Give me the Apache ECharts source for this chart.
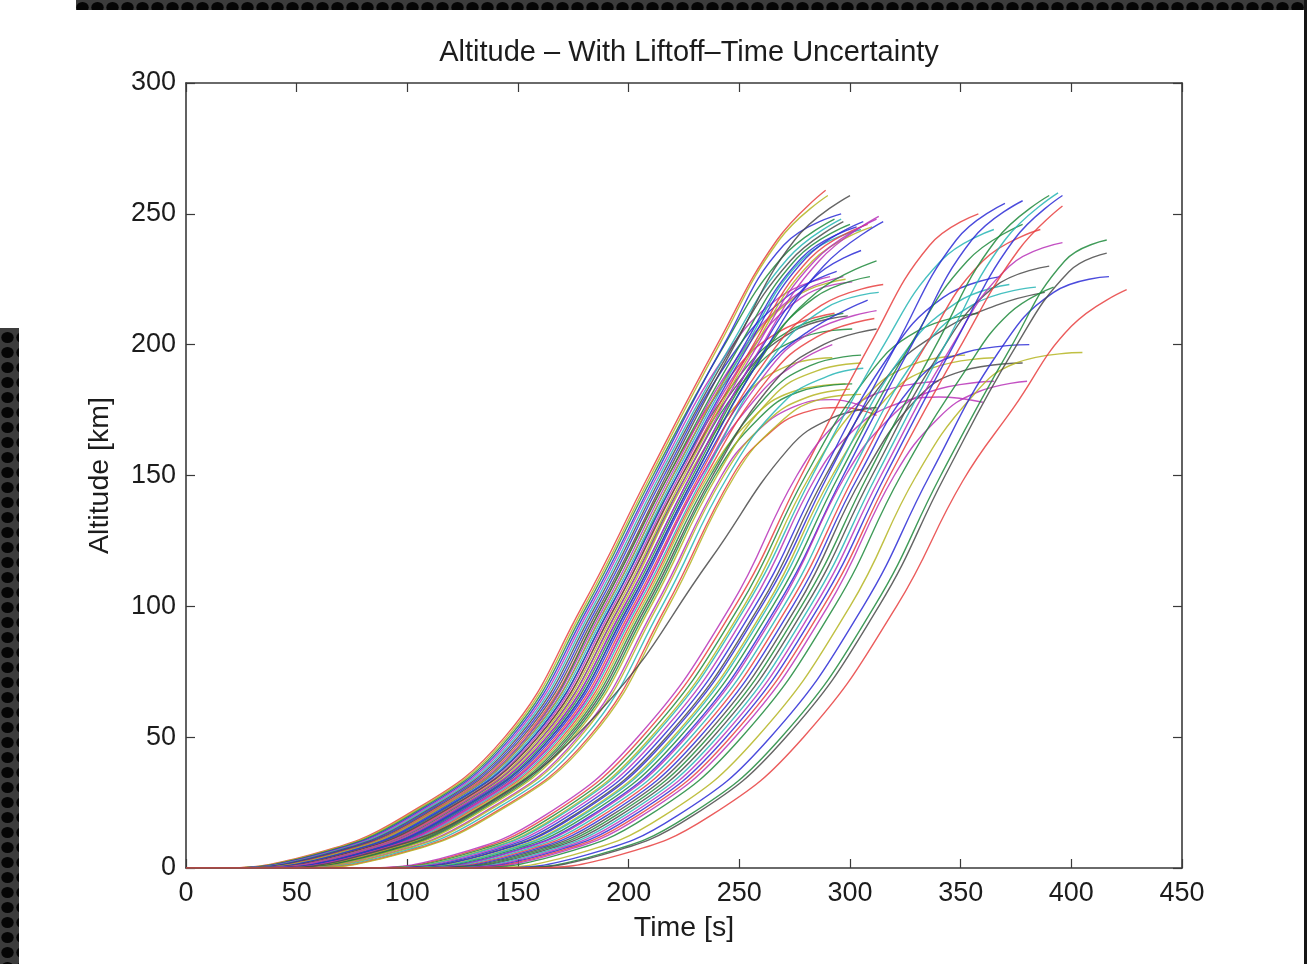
<!DOCTYPE html>
<html>
<head>
<meta charset="utf-8">
<script src="https://cdn.jsdelivr.net/npm/echarts@6/dist/echarts.min.js"></script>
<style>
  html, body { margin: 0; padding: 0; background: #ffffff; }
  #chart { width: 1307px; height: 964px; }
</style>
</head>
<body>
<div id="chart"></div>
<script>
// ---------- text ----------
const chartTitle = 'Altitude – With Liftoff–Time Uncertainty';
const xAxisName = 'Time [s]';
const yAxisName = 'Altitude [km]';

// ---------- tick values ----------
const xTickValues = [0, 50, 100, 150, 200, 250, 300, 350, 400, 450];
const yTickValues = [0, 50, 100, 150, 200, 250, 300];

// ---------- trajectories: [time s, altitude km] ----------
// first liftoff window, earlier half
const earlyLaunchesCore = [
  [[0,0],[11,0],[56,5],[99,20],[144,50],[179,100],[209,150],[240,200],[267,240],[289,259]],
  [[0,0],[12,0],[57,5],[100,20],[145,50],[180,100],[210,150],[241,200],[268,240],[290,257]],
  [[0,0],[13,0],[58,5],[101,20],[146,50],[181,100],[211,150],[242,198],[269,233],[293,248]],
  [[0,0],[14,0],[59,5],[102,20],[147,50],[182,100],[212,150],[243,200],[270,238],[296,250]],
  [[0,0],[15,0],[60,5],[103,20],[148,50],[183,100],[213,150],[243,195],[268,218],[291,226]],
  [[0,0],[16,0],[61,5],[104,20],[149,50],[184,100],[214,150],[245,198],[272,233],[296,248]],
  [[0,0],[17,0],[62,5],[105,20],[150,50],[185,100],[215,150],[246,198],[273,232],[297,247]],
  [[0,0],[18,0],[63,5],[106,20],[151,50],[186,100],[216,150],[246,195],[271,218],[294,228]],
  [[0,0],[19,0],[64,5],[107,20],[152,50],[187,100],[217,150],[248,200],[275,240],[300,257]],
  [[0,0],[20,0],[65,5],[108,20],[153,50],[188,100],[218,150],[246,188],[268,205],[293,212]],
  [[0,0],[22,0],[66,5],[109,20],[154,50],[188,100],[218,150],[249,198],[276,233],[300,246]],
  [[0,0],[21,0],[66,5],[109,20],[154,50],[189,100],[219,150],[249,195],[274,218],[297,226]],
  [[0,0],[22,0],[67,5],[110,20],[155,50],[190,100],[220,150],[251,198],[278,233],[303,245]],
  [[0,0],[20,0],[66,5],[109,20],[155,50],[190,100],[220,150],[250,195],[275,218],[298,225]],
  [[0,0],[23,0],[68,5],[111,20],[156,50],[191,100],[221,150],[252,198],[279,233],[305,244]],
  [[0,0],[24,0],[69,5],[112,20],[157,50],[192,100],[222,150],[250,188],[272,205],[297,212]],
  [[0,0],[22,0],[68,5],[111,20],[157,50],[192,100],[222,150],[253,198],[280,233],[306,247]],
  [[0,0],[25,0],[70,5],[113,20],[158,50],[193,100],[223,150],[253,195],[278,218],[301,224]],
  [[0,0],[26,0],[71,5],[114,20],[159,50],[194,100],[224,150],[255,198],[282,233],[308,246]],
  [[0,0],[24,0],[70,5],[113,20],[159,50],[194,100],[224,150],[252,188],[274,205],[299,211]],
  [[0,0],[27,0],[72,5],[115,20],[160,50],[195,100],[225,150],[256,198],[283,232],[310,245]],
  [[0,0],[28,0],[73,5],[116,20],[161,50],[196,100],[226,150],[254,188],[276,202],[301,206]],
  [[0,0],[26,0],[72,5],[115,20],[161,50],[196,100],[226,150],[257,198],[284,232],[312,248]]
];
// first liftoff window, later half
const earlyLaunchesLate = [
  [[0,0],[29,0],[74,5],[117,20],[162,50],[197,100],[227,150],[252,180],[272,192],[292,195]],
  [[0,0],[30,0],[75,5],[118,20],[163,50],[198,100],[228,150],[258,196],[283,225],[305,236]],
  [[0,0],[28,0],[74,5],[117,20],[163,50],[198,100],[228,150],[259,198],[286,232],[313,249]],
  [[0,0],[31,0],[76,5],[119,20],[164,50],[199,100],[229,150],[259,195],[284,218],[309,226]],
  [[0,0],[32,0],[77,5],[120,20],[165,50],[200,100],[230,150],[260,195],[285,220],[312,232]],
  [[0,0],[30,0],[76,5],[119,20],[165,50],[200,100],[230,150],[261,197],[288,230],[315,247]],
  [[0,0],[33,0],[78,5],[121,20],[166,50],[201,100],[231,150],[259,188],[281,205],[308,217]],
  [[0,0],[34,0],[79,5],[122,20],[167,50],[202,100],[232,150],[262,194],[287,215],[315,223]],
  [[0,0],[35,0],[80,5],[123,20],[168,50],[203,100],[233,150],[261,188],[283,205],[312,213]],
  [[0,0],[33,0],[79,5],[122,20],[168,50],[203,100],[233,150],[258,180],[276,193],[292,200]],
  [[0,0],[36,0],[81,5],[124,20],[169,50],[204,100],[234,150],[264,194],[289,214],[313,220]],
  [[0,0],[37,0],[82,5],[125,20],[170,50],[205,100],[235,150],[263,187],[285,203],[311,210]],
  [[0,0],[38,0],[83,5],[126,20],[171,50],[206,100],[236,150],[256,172],[274,182],[298,185]],
  [[0,0],[39,0],[84,5],[127,20],[172,50],[207,100],[237,150],[262,180],[282,192],[305,196]],
  [[0,0],[40,0],[85,5],[128,20],[173,50],[208,100],[238,150],[266,186],[288,200],[312,206]],
  [[0,0],[41,0],[86,5],[129,20],[174,50],[209,100],[239,150],[259,172],[277,182],[301,185]],
  [[0,0],[42,0],[87,5],[130,20],[175,50],[210,100],[240,150],[265,180],[285,190],[305,193]],
  [[0,0],[44,0],[89,5],[132,20],[177,50],[212,100],[242,150],[257,166],[274,176],[292,179],[310,175]],
  [[0,0],[45,0],[90,5],[133,20],[178,50],[213,100],[243,150],[263,171],[281,180],[300,183]],
  [[0,0],[47,0],[92,5],[135,20],[180,50],[215,100],[245,150],[270,178],[290,188],[306,191]],
  [[0,0],[49,0],[94,5],[137,20],[182,50],[217,100],[247,150],[262,165],[279,174],[297,176],[312,173]],
  [[0,0],[50,0],[95,5],[138,20],[183,50],[218,100],[248,150],[268,170],[286,179],[305,181]],
  [[0,0],[35,0],[80,5],[133,23],[187,60],[237,118],[272,160],[292,172],[312,176]]
];
// second liftoff window, earlier half
const lateLaunchesCore = [
  [[0,0],[80,0],[123,5],[164,20],[206,50],[248,100],[278,150],[309,200],[336,238],[358,250]],
  [[0,0],[78,0],[121,5],[162,20],[204,50],[246,100],[276,150],[296,172],[314,182],[340,186]],
  [[0,0],[82,0],[125,5],[166,20],[208,50],[250,100],[280,150],[308,188],[330,205],[358,212]],
  [[0,0],[84,0],[127,5],[168,20],[210,50],[252,100],[282,150],[307,180],[327,192],[352,196]],
  [[0,0],[85,0],[128,5],[169,20],[211,50],[253,100],[283,150],[314,198],[341,232],[365,244]],
  [[0,0],[87,0],[130,5],[171,20],[213,50],[255,100],[285,150],[300,166],[317,176],[340,180],[360,178]],
  [[0,0],[89,0],[132,5],[173,20],[215,50],[257,100],[287,150],[317,195],[342,218],[368,226]],
  [[0,0],[91,0],[134,5],[175,20],[217,50],[259,100],[289,150],[317,188],[339,204],[366,215],[388,220]],
  [[0,0],[92,0],[135,5],[176,20],[218,50],[260,100],[290,150],[321,200],[348,240],[370,254]],
  [[0,0],[94,0],[137,5],[178,20],[220,50],[262,100],[292,150],[317,180],[337,191],[365,195]],
  [[0,0],[95,0],[138,5],[179,20],[221,50],[263,100],[293,150],[323,195],[348,216],[372,223]],
  [[0,0],[97,0],[140,5],[181,20],[223,50],[265,100],[295,150],[326,198],[353,232],[378,246]],
  [[0,0],[99,0],[142,5],[183,20],[225,50],[267,100],[297,150],[328,200],[355,240],[378,255]],
  [[0,0],[100,0],[143,5],[184,20],[226,50],[268,100],[298,150],[318,172],[336,182],[365,186]],
  [[0,0],[102,0],[145,5],[186,20],[228,50],[270,100],[300,150],[330,195],[355,215],[384,222]],
  [[0,0],[104,0],[147,5],[188,20],[230,50],[272,100],[302,150],[333,198],[360,232],[386,244]]
];
// second liftoff window, later half
const lateLaunchesLate = [
  [[0,0],[106,0],[149,5],[190,20],[232,50],[274,100],[304,150],[330,186],[352,197],[381,200]],
  [[0,0],[108,0],[151,5],[192,20],[234,50],[276,100],[306,150],[331,180],[351,190],[378,193]],
  [[0,0],[110,0],[153,5],[194,20],[236,50],[278,100],[308,150],[339,200],[366,240],[390,257]],
  [[0,0],[112,0],[155,5],[196,20],[238,50],[280,100],[310,150],[340,196],[365,222],[390,230]],
  [[0,0],[114,0],[157,5],[198,20],[240,50],[282,100],[312,150],[343,200],[370,240],[394,258]],
  [[0,0],[116,0],[159,5],[200,20],[242,50],[284,100],[314,150],[345,198],[372,230],[396,239]],
  [[0,0],[118,0],[161,5],[202,20],[244,50],[286,100],[316,150],[347,200],[374,240],[396,257]],
  [[0,0],[120,0],[163,5],[204,20],[246,50],[288,100],[318,150],[349,198],[376,236],[396,253]],
  [[0,0],[122,0],[165,5],[206,20],[248,50],[290,100],[320,150],[340,172],[358,182],[380,186]],
  [[0,0],[125,0],[168,5],[209,20],[251,50],[293,100],[323,150],[352,190],[372,212],[392,222]],
  [[0,0],[132,0],[175,5],[216,20],[258,50],[300,100],[330,150],[355,180],[375,193],[405,197]],
  [[0,0],[138,0],[181,5],[222,20],[264,50],[306,100],[336,150],[367,197],[392,220],[417,226]],
  [[0,0],[143,0],[186,5],[227,20],[269,50],[311,100],[341,150],[372,198],[397,232],[416,240]],
  [[0,0],[145,0],[188,5],[229,20],[271,50],[313,100],[343,150],[374,198],[399,228],[416,235]],
  [[0,0],[153,0],[196,5],[237,20],[279,50],[321,100],[351,148],[374,176],[400,207],[425,221]]
];

// ---------- styles (kept apart from the data) ----------
const palette = ['#2b2bd6', '#1e8a3c', '#e8403f', '#26b5b5', '#b833b8', '#b5b522', '#4a4a4a'];
const colorOrderEarly = [2,5,1,0,4,3,6,0,6,2,1,4,0,5,3,1,0,4,2,6,5,1,4,
                         5,0,4,1,1,0,0,2,4,4,3,2,5,1,6,1,5,4,5,3,2,5,6];
const colorOrderLate = [2,4,1,5,3,4,0,6,0,5,3,1,0,4,3,2,
                        0,6,1,6,3,4,0,2,4,1,5,0,1,6,2];
const FONT = '"Liberation Sans", Arial, Helvetica, sans-serif';
const INK = '#1c1c1c';
const AXIS = '#3a3a3a';

const earlyAll = earlyLaunchesCore.concat(earlyLaunchesLate);
const lateAll = lateLaunchesCore.concat(lateLaunchesLate);

const series = [];
function addLines(lines, colors) {
  lines.forEach((pts, i) => {
    series.push({
      type: 'line',
      data: pts,
      showSymbol: false,
      smooth: 0.45,
      silent: true,
      lineStyle: { width: 1.4, color: palette[colors[i % colors.length]], opacity: 0.85 },
      emphasis: { disabled: true }
    });
  });
}
addLines(earlyAll, colorOrderEarly);
addLines(lateAll, colorOrderLate);

// dotted dark pattern for the screenshot border
function makePattern() {
  const c = document.createElement('canvas');
  c.width = 15; c.height = 15;
  const g = c.getContext('2d');
  g.fillStyle = '#3c3c3c';
  g.fillRect(0, 0, 15, 15);
  g.fillStyle = '#050505';
  g.beginPath();
  g.ellipse(7.5, 7.5, 6.2, 5.6, 0, 0, Math.PI * 2);
  g.fill();
  return c;
}
const pat = { image: makePattern(), repeat: 'repeat' };

const xMin = xTickValues[0], xMax = xTickValues[xTickValues.length - 1];
const yMin = yTickValues[0], yMax = yTickValues[yTickValues.length - 1];
const xStep = xTickValues[1] - xTickValues[0];
const yStep = yTickValues[1] - yTickValues[0];

const tickStyle = { show: true, inside: true, length: 9, lineStyle: { color: AXIS, width: 1.2 } };
const lineStyleAxis = { show: true, onZero: false, lineStyle: { color: AXIS, width: 1.6 } };

const option = {
  animation: false,
  backgroundColor: '#ffffff',
  textStyle: { fontFamily: FONT },
  title: {
    text: chartTitle,
    left: 684, top: 33, textAlign: 'center',
    textStyle: { fontFamily: FONT, fontSize: 29, fontWeight: 'normal', color: INK }
  },
  grid: { left: 186, right: 125, top: 83, bottom: 96, containLabel: false },
  xAxis: [
    {
      type: 'value', position: 'bottom', min: xMin, max: xMax, interval: xStep,
      axisLine: lineStyleAxis, axisTick: tickStyle, splitLine: { show: false },
      axisLabel: { margin: 12, fontSize: 27, color: INK, fontFamily: FONT },
      name: xAxisName, nameLocation: 'middle', nameGap: 46,
      nameTextStyle: { fontSize: 28.5, color: INK, fontFamily: FONT }
    },
    {
      type: 'value', position: 'top', min: xMin, max: xMax, interval: xStep,
      axisLine: lineStyleAxis, axisTick: tickStyle, splitLine: { show: false },
      axisLabel: { show: false }
    }
  ],
  yAxis: [
    {
      type: 'value', position: 'left', min: yMin, max: yMax, interval: yStep,
      axisLine: lineStyleAxis, axisTick: tickStyle, splitLine: { show: false },
      axisLabel: { margin: 10, fontSize: 27, color: INK, fontFamily: FONT },
      name: yAxisName, nameLocation: 'middle', nameGap: 71, nameRotate: 90,
      nameTextStyle: { fontSize: 28.5, color: INK, fontFamily: FONT }
    },
    {
      type: 'value', position: 'right', min: yMin, max: yMax, interval: yStep,
      axisLine: lineStyleAxis, axisTick: tickStyle, splitLine: { show: false },
      axisLabel: { show: false }
    }
  ],
  graphic: [
    { type: 'rect', silent: true, z: 100, shape: { x: 76, y: 0, width: 1231, height: 10 }, style: { fill: pat } },
    { type: 'rect', silent: true, z: 100, shape: { x: 0, y: 328, width: 19, height: 636 }, style: { fill: pat } },
    { type: 'rect', silent: true, z: 100, shape: { x: 1304, y: 0, width: 3, height: 964 }, style: { fill: '#151515' } }
  ],
  series: series
};

const chart = echarts.init(document.getElementById('chart'), null, { renderer: 'canvas' });
chart.setOption(option);
</script>
</body>
</html>
